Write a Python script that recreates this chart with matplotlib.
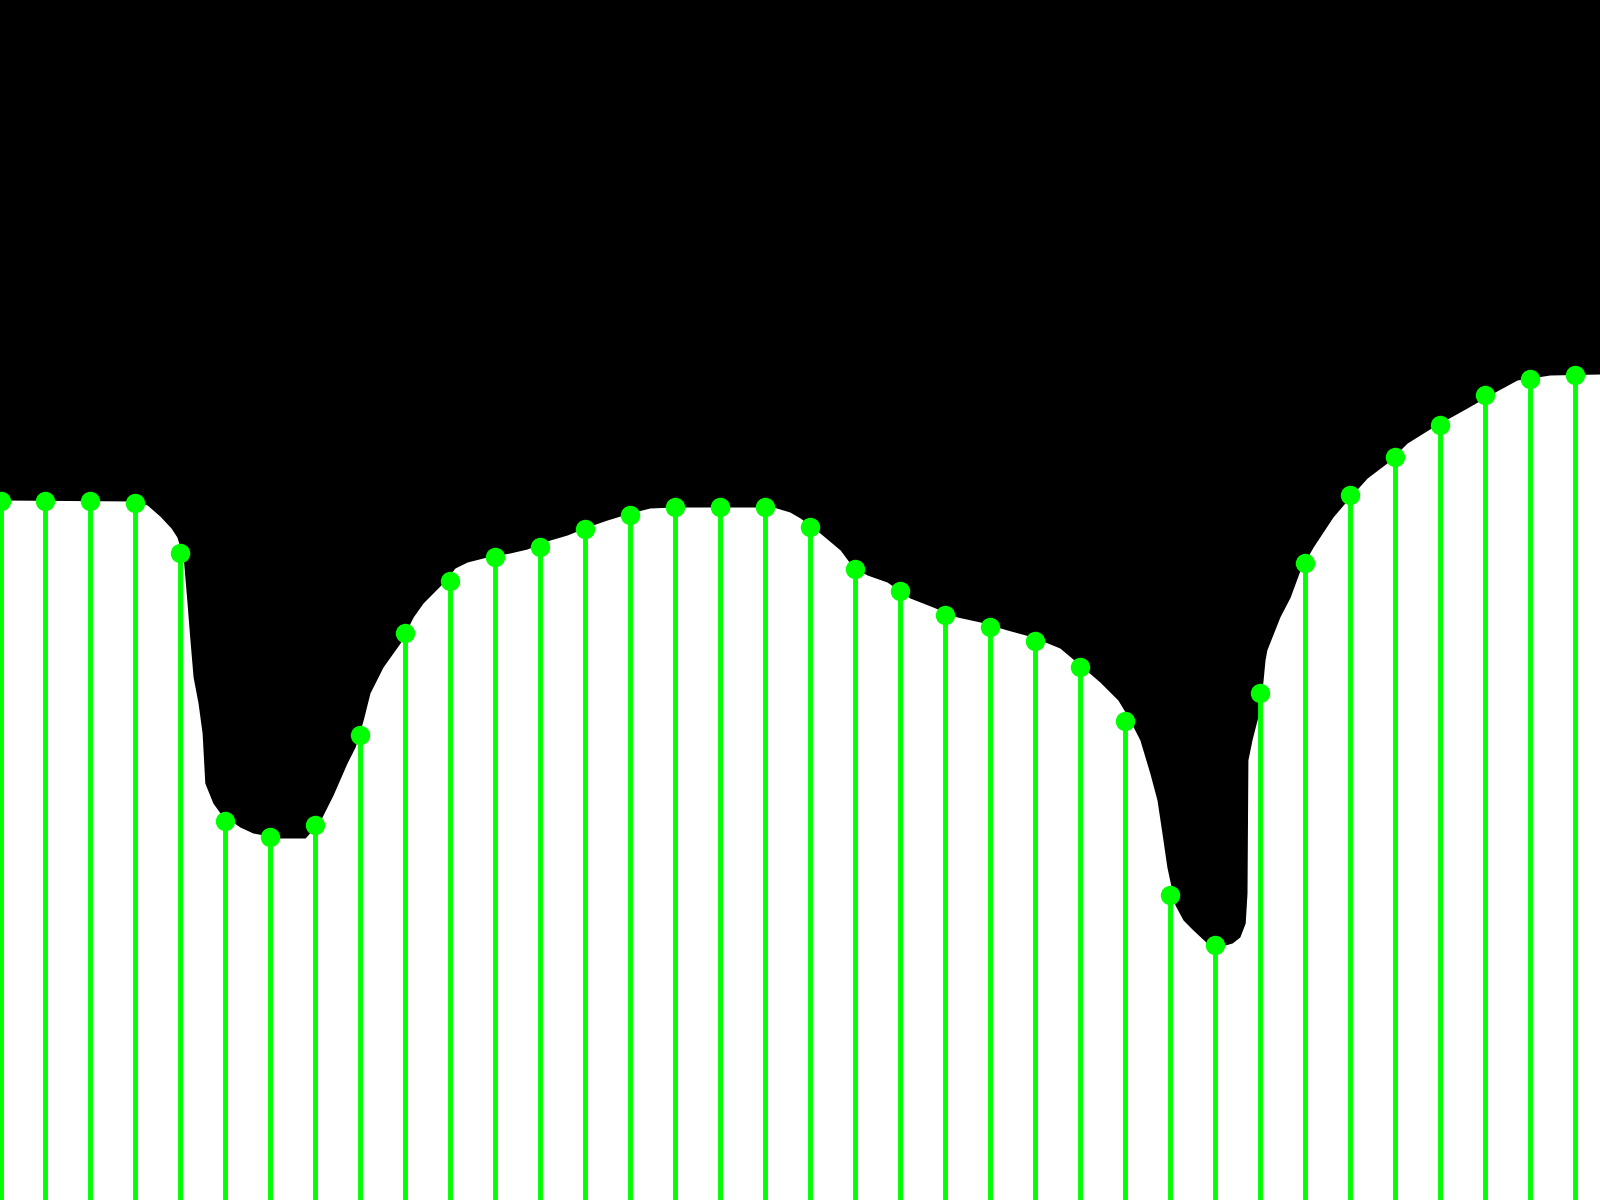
import numpy as np
import matplotlib
matplotlib.use("Agg")
import matplotlib.pyplot as plt

# sampled values (one per stem), height above the bottom edge
stem_values = [699, 699, 699, 697, 647, 379, 363, 375, 465, 567, 619, 643,
               653, 671, 685, 693, 693, 693, 673, 631, 609, 585, 573, 559,
               533, 479, 305, 255, 507, 637, 705, 743, 775, 805, 821, 825]

# underlying continuous signal (x in stem-index units)
curve_x = [0, 2.99, 3.26, 3.54, 3.79, 3.92, 4.06, 4.14, 4.21, 4.28, 4.39, 4.48,
           4.54, 4.72, 4.88, 5.32, 5.61, 6.21, 6.77, 7.10, 7.39, 7.70, 7.88, 8.06,
           8.21, 8.50, 8.88, 9.17, 9.39, 9.61, 9.83, 10.10, 10.37, 10.81, 11.32,
           11.70, 12.21, 12.59, 13.03, 13.48, 13.99, 14.43, 14.94, 17.17, 17.54,
           17.77, 18.21, 18.66, 18.94, 19.26, 19.70, 20.21, 20.72, 21.26, 21.77,
           22.37, 22.94, 23.54, 23.99, 24.43, 24.83, 25.06, 25.32, 25.54, 25.70,
           25.81, 25.92, 26.10, 26.28, 26.50, 26.81, 27.21, 27.37, 27.54, 27.66,
           27.70, 27.71, 27.72, 27.81, 27.94, 28.03, 28.10, 28.14, 28.43, 28.66,
           28.88, 29.17, 29.61, 29.99, 30.37, 30.81, 31.26, 31.83, 32.59, 33.17,
           33.70, 34.43, 35.54]
curve_y = [700, 699, 695, 684, 672, 663, 643, 600, 560, 523, 497, 467,
           417, 397, 387, 373, 367, 362, 362, 379, 405, 437, 453, 480,
           507, 533, 557, 583, 597, 607, 617, 632, 638, 643, 647,
           651, 660, 665, 673, 680, 687, 692, 693, 693, 688,
           682, 667, 650, 633, 625, 618, 602, 593, 583, 578,
           570, 563, 552, 535, 518, 500, 483, 460, 427, 400,
           367, 333, 295, 280, 270, 257, 255, 257, 263, 277,
           307, 373, 440, 460, 483, 507, 540, 550, 583, 603,
           630, 653, 683, 703, 722, 737, 757, 773, 792, 807,
           820, 825, 826]

GREEN = "#00ff00"

fig = plt.figure(figsize=(16, 12), dpi=100, facecolor="black")
ax = fig.add_axes([0, 0, 1, 1])
ax.set_facecolor("black")

ax.fill_between(curve_x, 0, curve_y, color="white", linewidth=0)

idx = np.arange(len(stem_values))
ax.vlines(idx, 0, stem_values, color=GREEN, linewidth=3.5)
ax.plot(idx, stem_values, "o", color=GREEN, markersize=14, markeredgewidth=0)

ax.set_xlim(-0.5 / 45, 1599.5 / 45)
ax.set_ylim(0, 1200)
ax.axis("off")

fig.savefig("out.png", dpi=100, facecolor="black")
